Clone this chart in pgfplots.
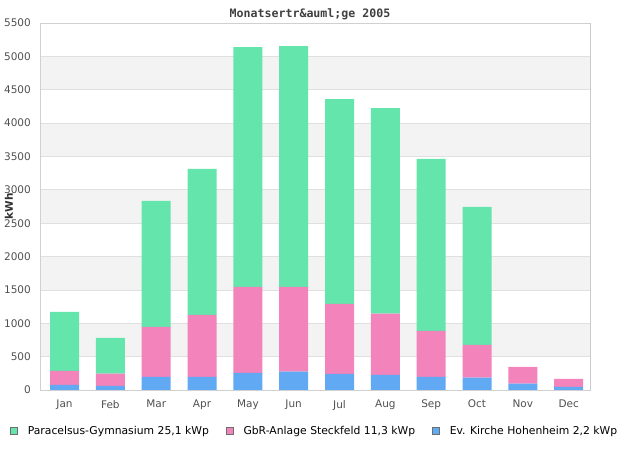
\documentclass[border=0pt]{standalone}
\usepackage{fontspec}
\setmainfont{DejaVu Sans}
\newfontfamily\titlefont{DejaVu Sans Mono}
\usepackage{pgfplots}
\pgfplotsset{compat=1.18}

\definecolor{cGreen}{RGB}{99,229,171}
\definecolor{cPink}{RGB}{242,131,187}
\definecolor{cBlue}{RGB}{97,169,243}
\definecolor{band}{RGB}{243,243,243}
\definecolor{gridc}{RGB}{224,224,224}
\definecolor{axisc}{RGB}{208,208,208}
\definecolor{rightc}{RGB}{160,160,230}
\definecolor{tickc}{RGB}{80,80,80}

% cumulative readings converted to per-series values
\pgfplotstableread{
x blue pink green
0 75 210 885
1 60 185 535
2 195 750 1890
3 195 930 2190
4 255 1290 3595
5 275 1270 3610
6 240 1050 3070
7 225 920 3080
8 195 690 2580
9 185 490 2070
10 95 250 0
11 45 120 0
}\datatable

\begin{document}
\begin{tikzpicture}
\path[use as bounding box] (0,0) rectangle (620bp,450bp);
% alternating background bands (plot area 40..590 x 60..427 bp, 500 kWh = 33.36 bp)
\foreach \k in {1,3,5,7,9}{
  \fill[band] (40bp,{(60+\k*33.3636)*1bp}) rectangle (590bp,{(60+(\k+1)*33.3636)*1bp});
}
\begin{axis}[
  at={(40bp,60bp)}, anchor=south west,
  scale only axis, width=550bp, height=367bp,
  ybar stacked, bar width=29bp,
  xmin=-0.535, xmax=11.465, ymin=0, ymax=5500,
  xtick=data,
  xticklabels={Jan,Feb,Mar,Apr,May,Jun,Jul,Aug,Sep,Oct,Nov,Dec},
  ytick={0,500,...,5500},
  major tick length=0pt,
  ymajorgrids, grid style={gridc, line width=0.8bp},
  axis line style={axisc, line width=0.8bp},
  /pgf/number format/assume math mode=true,
  /pgf/number format/1000 sep={},
  tick label style={font=\fontsize{10.5bp}{12bp}\selectfont, text=tickc},
  yticklabel style={anchor=east, inner sep=0pt, xshift=-9bp},
  xticklabel style={anchor=north, inner sep=0pt, yshift=-10bp},
  title={\titlefont\bfseries Monatsertr\&auml;ge 2005},
  title style={at={(axis description cs:0.4909,1)}, anchor=center, yshift=3bp,
    font=\fontsize{11.6bp}{13bp}\selectfont, text={rgb,255:red,64;green,64;blue,64}},
  ylabel={\bfseries kWh},
  ylabel style={at={(axis description cs:-0.0564,0.5)}, anchor=center, rotate=0,
    font=\fontsize{10.5bp}{12bp}\selectfont, text={rgb,255:red,50;green,50;blue,50}},
  reverse legend,
  legend columns=3,
  legend style={at={(axis description cs:-0.0545,-0.1117)}, anchor=west,
    draw=none, fill=none, inner sep=0pt,
    font=\fontsize{10.8bp}{12bp}\selectfont,
    /tikz/every odd column/.append style={column sep=8bp},
    /tikz/every even column/.append style={column sep=15bp}},
  legend image code/.code={\draw[#1, draw={rgb,255:red,110;green,110;blue,110}, line width=0.6bp] (0bp,-3.5bp) rectangle (7bp,3.5bp);},
]
\addplot[fill=cBlue, draw=none] table[x=x, y=blue] {\datatable};
\addplot[fill=cPink, draw=none] table[x=x, y=pink] {\datatable};
\addplot[fill=cGreen, draw=none] table[x=x, y=green] {\datatable};
\legend{Ev. Kirche Hohenheim 2{,}2 kWp, GbR-Anlage Steckfeld 11{,}3 kWp, Paracelsus-Gymnasium 25{,}1 kWp}
\draw[rightc, line width=0.8bp] (rel axis cs:1,0) -- (rel axis cs:1,1);
\end{axis}
\end{tikzpicture}
\end{document}
